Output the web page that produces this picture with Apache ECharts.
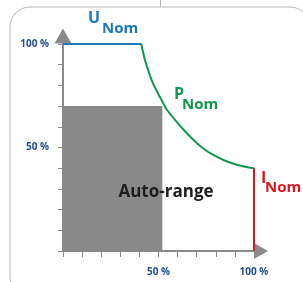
<!DOCTYPE html>
<html>
<head>
<meta charset="utf-8">
<script src="https://cdn.jsdelivr.net/npm/echarts@6/dist/echarts.min.js"></script>
<style>
  html, body { margin: 0; padding: 0; background: #fff; }
  #chart { width: 303px; height: 282px; }
</style>
</head>
<body>
<div id="chart"></div>
<script>
// values in % of nominal
const autoRange = [[0, 70], [52, 70]]
const uNom = [[0, 100], [41, 100]]
const pNom = [
  [41, 100], [41.7, 97], [42.9, 92.3], [44.6, 87.4], [46.4, 82.6], [48.8, 77.8],
  [51.6, 72.9], [54.5, 68.1], [59.3, 62.6], [64.1, 57.6], [69.3, 52.8], [74.5, 48.8],
  [79.7, 45.9], [84.9, 43.6], [90.1, 41.9], [95.3, 40.7], [100, 40]
]
const iNom = [[100, 40], [100, 0]]
const labelledTicks = [50, 100]

const axisGray = '#8a8a8a'
const labelBlue = '#234d94'
const font = '"Open Sans", "DejaVu Sans", sans-serif'

const tickLabel = (v) => (labelledTicks.includes(v) ? v + ' %' : '')

const myChart = echarts.init(document.getElementById('chart'))
const option = {
  animation: false,
  grid: { left: 63, top: 44, width: 191, height: 207 },
  xAxis: {
    type: 'value',
    min: 0,
    max: 100,
    interval: 10,
    splitLine: { show: false },
    axisLine: {
      lineStyle: { color: axisGray, width: 2 },
      symbol: ['none', 'triangle'],
      symbolSize: [16, 14],
      symbolOffset: [0, 7]
    },
    axisTick: { show: true, inside: false, length: 6, lineStyle: { color: axisGray, width: 1 } },
    axisLabel: {
      formatter: tickLabel,
      margin: 16,
      color: labelBlue,
      fontWeight: 'bold',
      fontSize: 10,
      fontFamily: font,
      showMinLabel: true,
      showMaxLabel: true
    }
  },
  yAxis: {
    type: 'value',
    min: 0,
    max: 100,
    interval: 10,
    splitLine: { show: false },
    axisLine: {
      lineStyle: { color: axisGray, width: 2 },
      symbol: ['none', 'triangle'],
      symbolSize: [17, 15],
      symbolOffset: [0, 8]
    },
    axisTick: { show: true, inside: false, length: 5, lineStyle: { color: axisGray, width: 1 } },
    axisLabel: {
      formatter: tickLabel,
      margin: 14,
      color: labelBlue,
      fontWeight: 'bold',
      fontSize: 10,
      fontFamily: font,
      showMaxLabel: true
    }
  },
  series: [
    {
      type: 'line',
      data: autoRange,
      symbol: 'none',
      lineStyle: { width: 0 },
      areaStyle: { color: '#898989', opacity: 1 },
      z: 1
    },
    {
      type: 'line',
      data: uNom,
      symbol: 'none',
      lineStyle: { color: '#1b76bd', width: 2 },
      z: 3
    },
    {
      type: 'line',
      data: pNom,
      symbol: 'none',
      smooth: 0.3,
      lineStyle: { color: '#11994b', width: 2 },
      z: 3
    },
    {
      type: 'line',
      data: iNom,
      symbol: 'none',
      lineStyle: { color: '#e1141d', width: 2 },
      z: 3
    }
  ],
  graphic: [
    {
      type: 'rect',
      shape: { x: 10, y: 7, width: 300, height: 290, r: 20 },
      style: { fill: 'none', stroke: '#b8b8b8', lineWidth: 1 },
      z: -1
    },
    {
      type: 'line',
      shape: { x1: 160.5, y1: 0, x2: 160.5, y2: 7 },
      style: { stroke: '#b8b8b8', lineWidth: 1 }
    },
    { type: 'text', z: 100, x: 88, y: 10, style: { text: 'U', font: 'bold 16px ' + font, fill: '#1b76bd' } },
    { type: 'text', z: 100, x: 102, y: 21, style: { text: 'Nom', font: 'bold 15px ' + font, fill: '#1b76bd' } },
    { type: 'text', z: 100, x: 174, y: 86, style: { text: 'P', font: 'bold 16px ' + font, fill: '#11994b' } },
    { type: 'text', z: 100, x: 182, y: 97, style: { text: 'Nom', font: 'bold 15px ' + font, fill: '#11994b' } },
    { type: 'text', z: 100, x: 261, y: 170, style: { text: 'I', font: 'bold 16px ' + font, fill: '#e1141d' } },
    { type: 'text', z: 100, x: 265, y: 180, style: { text: 'Nom', font: 'bold 15px ' + font, fill: '#e1141d' } },
    {
      type: 'text',
      z: 100,
      x: 166,
      y: 184,
      style: { text: 'Auto-range', font: 'bold 17px ' + font, fill: '#1e1e1e', textAlign: 'center' }
    }
  ]
}
myChart.setOption(option)
</script>
</body>
</html>
